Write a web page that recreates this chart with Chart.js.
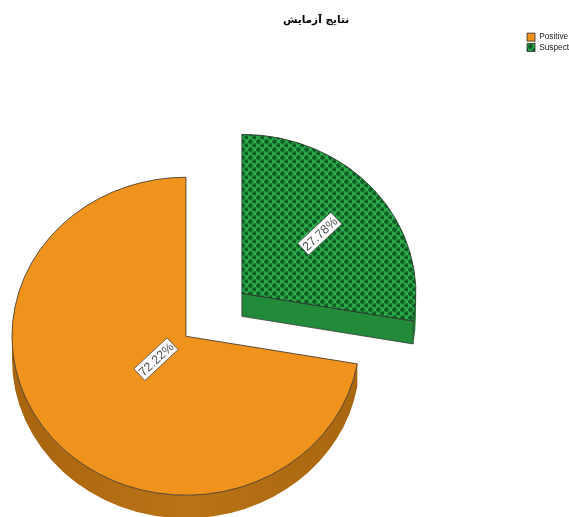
<!DOCTYPE html>
<html>
<head>
<meta charset="utf-8">
<style>html,body{margin:0;padding:0;background:#fff}canvas{display:block}</style>
<script src="https://cdn.jsdelivr.net/npm/chart.js@4/dist/chart.umd.min.js"></script>
</head>
<body>
<canvas id="pie" width="569" height="517"></canvas>
<script>
// Test result shares
const categories = ['Positive', 'Suspect'];
const shares = [72.22, 27.78];
const chartTitle = 'نتایج آزمایش';

const ORANGE = '#F0931C';
const GREEN = '#2BAA4A';
const GREEN_DARK = '#0F5E24';
const OUTLINE = '#2A2A2A';
const TILT = 159 / 174;      // vertical squash of the tilted disc
const DEPTH = 23;            // thickness of the disc in pixels
const EXPLODE = 36.5;        // distance each slice moves along its bisector
const LABEL_RADIUS = [0.225, 0.584];

// Diagonal lattice of small dark crosses over green
function hatch() {
  const c = document.createElement('canvas');
  c.width = 8; c.height = 8;
  const g = c.getContext('2d');
  g.fillStyle = GREEN;
  g.fillRect(0, 0, 8, 8);
  const cross = (x, y) => {
    g.fillStyle = '#1C7F36';
    g.fillRect(x - 2, y - 1, 5, 3);
    g.fillRect(x - 1, y - 2, 3, 5);
    g.fillStyle = GREEN_DARK;
    g.fillRect(x - 2, y, 5, 1);
    g.fillRect(x, y - 2, 1, 5);
    g.fillRect(x - 1, y - 1, 3, 3);
  };
  cross(2, 2);
  cross(6, 6);
  const p = g.createPattern(c, 'repeat');
  p.setTransform(new DOMMatrix().scale(1, 1 / TILT));
  return p;
}

const centreY = chart => (chart.chartArea.top + chart.chartArea.bottom) / 2;

// Screen geometry of a slice after the vertical squash
function sliceGeometry(chart, arc) {
  const cy = centreY(chart);
  return {
    x: arc.x,
    y: cy + (arc.y - cy) * TILT,
    rx: arc.outerRadius,
    ry: arc.outerRadius * TILT,
    mid: (arc.startAngle + arc.endAngle) / 2
  };
}

const sideShades = [
  [[0, '#A8640F'], [0.5, '#BA7316'], [1, '#A8660F']],
  [[0, '#1C7A33'], [1, '#1C7A33']]
];
const faceShades = ['#A8640F', '#228B3A'];

const discPlugin = {
  id: 'tiltedDisc',
  afterLayout(chart) {
    // Title and legend sit independently of the plot box
    chart.titleBlock.left = 63;
    chart.titleBlock.right = 569;
    chart.legend.left = 525;
    chart.legend.right = 569;
    chart.legend.top = 31;
    chart.legend.bottom = 55;
  },
  afterDatasetUpdate(chart, args) {
    // Pull the slices apart along their bisectors
    chart.getDatasetMeta(args.index).data.forEach(arc => {
      const mid = (arc.startAngle + arc.endAngle) / 2;
      arc.x += Math.cos(mid) * EXPLODE;
      arc.y += Math.sin(mid) * EXPLODE;
    });
  },
  beforeDatasetsDraw(chart) {
    const ctx = chart.ctx;
    const arcs = chart.getDatasetMeta(0).data;
    const norm = a => ((a % (2 * Math.PI)) + 2 * Math.PI) % (2 * Math.PI);
    arcs.forEach((arc, i) => {
      const s = sliceGeometry(chart, arc);
      const a0 = arc.startAngle, a1 = arc.endAngle;
      const start = norm(a0);
      const from = start < Math.PI ? start : 0;
      const to = Math.min(start < Math.PI ? from + (a1 - a0) : start + (a1 - a0) - 2 * Math.PI, Math.PI);

      ctx.save();
      ctx.strokeStyle = OUTLINE;
      ctx.lineWidth = 0.7;
      // Outer rim below the top face
      if (to > from) {
        const grad = ctx.createLinearGradient(s.x - s.rx, 0, s.x + s.rx, 0);
        sideShades[i].forEach(st => grad.addColorStop(st[0], st[1]));
        ctx.beginPath();
        ctx.ellipse(s.x, s.y, s.rx, s.ry, 0, from, to);
        ctx.ellipse(s.x, s.y + DEPTH, s.rx, s.ry, 0, to, from, true);
        ctx.closePath();
        ctx.fillStyle = grad;
        ctx.fill();
      }
      // Cut face, visible when the slice ends just past the horizontal
      if (norm(a1) > 0 && norm(a1) < Math.PI / 2 && start >= Math.PI) {
        const ex = s.x + Math.cos(a1) * s.rx, ey = s.y + Math.sin(a1) * s.ry;
        ctx.beginPath();
        ctx.moveTo(s.x, s.y);
        ctx.lineTo(ex, ey);
        ctx.lineTo(ex, ey + DEPTH);
        ctx.lineTo(s.x, s.y + DEPTH);
        ctx.closePath();
        ctx.fillStyle = faceShades[i];
        ctx.fill();
        ctx.stroke();
      }
      ctx.restore();
    });
    // Squash the pie about its centre so the circle reads as a tilted disc
    const cy = centreY(chart);
    ctx.save();
    ctx.translate(0, cy);
    ctx.scale(1, TILT);
    ctx.translate(0, -cy);
  },
  afterDatasetsDraw(chart) {
    const ctx = chart.ctx;
    ctx.restore();
    // Percentage tags, turned along the exploded axis
    chart.getDatasetMeta(0).data.forEach((arc, i) => {
      const s = sliceGeometry(chart, arc);
      const px = s.x + Math.cos(s.mid) * s.rx * LABEL_RADIUS[i];
      const py = s.y + Math.sin(s.mid) * s.ry * LABEL_RADIUS[i];
      const text = shares[i].toFixed(2) + '%';
      ctx.save();
      ctx.translate(px, py);
      ctx.rotate(-43 * Math.PI / 180);
      ctx.font = '12.5px "Liberation Sans"';
      const w = ctx.measureText(text).width + 3;
      const h = 16;
      ctx.fillStyle = '#fff';
      ctx.strokeStyle = '#555';
      ctx.lineWidth = 0.8;
      ctx.fillRect(-w / 2, -h / 2, w, h);
      ctx.strokeRect(-w / 2, -h / 2, w, h);
      ctx.fillStyle = '#555';
      ctx.textAlign = 'center';
      ctx.textBaseline = 'middle';
      ctx.fillText(text, 0, 1);
      ctx.restore();
    });
  }
};

const total = shares.reduce((a, b) => a + b, 0);

new Chart(document.getElementById('pie'), {
  type: 'pie',
  data: {
    labels: categories,
    datasets: [{
      data: shares,
      backgroundColor: [ORANGE, hatch()],
      borderColor: OUTLINE,
      borderWidth: 0.8,
      clip: false
    }]
  },
  options: {
    responsive: false,
    animation: false,
    radius: 174,
    rotation: 360 * shares[1] / total,
    layout: { padding: { left: 0, right: 87, top: 0, bottom: 0 } },
    plugins: {
      tooltip: { enabled: false },
      title: {
        display: true,
        text: chartTitle,
        color: '#000',
        font: { family: '"DejaVu Sans"', size: 10.5, weight: 'bold' },
        padding: { top: 14, bottom: 86 }
      },
      legend: {
        position: 'right',
        align: 'start',
        labels: {
          boxWidth: 8,
          boxHeight: 8,
          padding: 2,
          color: '#222',
          font: { family: '"Liberation Sans"', size: 8.3 }
        }
      }
    }
  },
  plugins: [discPlugin]
});
</script>
</body>
</html>
